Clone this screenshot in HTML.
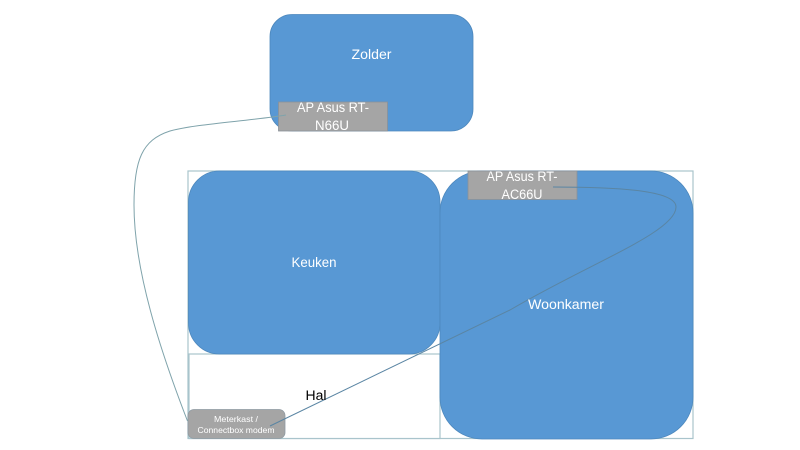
<!DOCTYPE html>
<html>
<head>
<meta charset="utf-8">
<style>
html,body{margin:0;padding:0;background:#fff;}
svg{display:block;}
text{font-family:"Liberation Sans",sans-serif;font-size:13.5px;fill:#fff;}
</style>
</head>
<body>
<svg width="800" height="450" viewBox="0 0 800 450" xmlns="http://www.w3.org/2000/svg">
<rect x="0" y="0" width="800" height="450" fill="#fff"/>
<!-- outer plan outline -->
<rect x="188" y="171" width="505" height="267.5" fill="#fff" stroke="#a9c4cc" stroke-width="1.2"/>
<rect x="189" y="354" width="251" height="84.5" fill="#fff" stroke="#a9c4cc" stroke-width="1.2"/>
<!-- rooms -->
<rect x="270" y="14.5" width="203" height="116.5" rx="22" fill="#5898d4" stroke="#4d88bd" stroke-width="0.8"/>
<rect x="188.5" y="171" width="251.5" height="183" rx="31" fill="#5898d4" stroke="#4d88bd" stroke-width="0.8"/>
<rect x="440" y="171" width="253" height="268" rx="42" fill="#5898d4" stroke="#4d88bd" stroke-width="0.8"/>
<!-- devices -->
<rect x="278.5" y="102" width="109" height="29" fill="#a5a5a5" stroke="#8a9199" stroke-width="0.8"/>
<rect x="468" y="171" width="109" height="28.5" fill="#a5a5a5" stroke="#8a9199" stroke-width="0.8"/>
<rect x="188" y="409.5" width="97" height="29" rx="6" fill="#a5a5a5" stroke="#8f9aa2" stroke-width="0.8"/>
<!-- connectors -->
<path d="M187.5 421 C160 350 134 270 134 205 C134 160 142 140 170 131 C195 124 250 121 286 115" fill="none" stroke="#7fa3ab" stroke-width="1"/>
<path d="M270 426 L510 310 C590 263 676 232 676 207 C676 192 630 187 553 187" fill="none" stroke="#5a85a3" stroke-width="1"/>
<!-- labels -->
<text x="371.5" y="59" text-anchor="middle" textLength="40" lengthAdjust="spacingAndGlyphs">Zolder</text>
<text x="333" y="112" text-anchor="middle" textLength="72" lengthAdjust="spacingAndGlyphs">AP Asus RT-</text>
<text x="332" y="130" text-anchor="middle" textLength="34" lengthAdjust="spacingAndGlyphs">N66U</text>
<text x="314" y="267" text-anchor="middle" textLength="45" lengthAdjust="spacingAndGlyphs">Keuken</text>
<text x="566" y="309" text-anchor="middle" textLength="76" lengthAdjust="spacingAndGlyphs">Woonkamer</text>
<text x="522" y="181" text-anchor="middle" textLength="71" lengthAdjust="spacingAndGlyphs">AP Asus RT-</text>
<text x="522" y="199" text-anchor="middle" textLength="41" lengthAdjust="spacingAndGlyphs">AC66U</text>
<text x="316" y="400" text-anchor="middle" textLength="21" lengthAdjust="spacingAndGlyphs" style="fill:#000">Hal</text>
<text x="236" y="422" text-anchor="middle" textLength="44" lengthAdjust="spacingAndGlyphs" style="font-size:8.5px">Meterkast /</text>
<text x="236" y="433" text-anchor="middle" textLength="77" lengthAdjust="spacingAndGlyphs" style="font-size:8.5px">Connectbox modem</text>
</svg>
</body>
</html>
